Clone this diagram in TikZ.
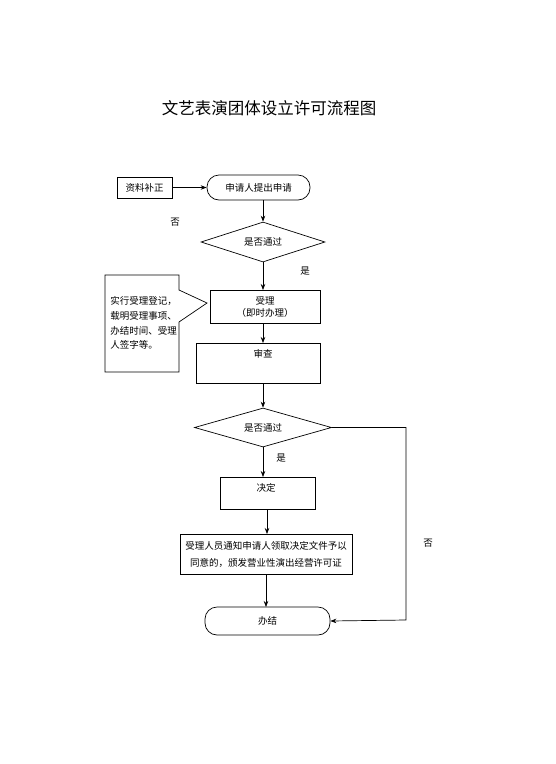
\documentclass[tikz,border=0pt]{standalone}
\usepackage{fontspec}
\setmainfont{Noto Sans CJK SC}
\usetikzlibrary{shapes.geometric,arrows.meta}

\begin{document}
\begin{tikzpicture}[x=1pt, y=-1pt, >={Stealth[length=6pt,width=4.5pt]}, line width=0.7pt,
    every node/.style={font=\fontsize{9.5}{12}\selectfont},
    box/.style={draw, rectangle, inner sep=2pt},
    term/.style={draw, rectangle, rounded corners=12pt, minimum height=26pt},
    decision/.style={draw, diamond, aspect=3.1, inner sep=1pt}]
    \useasboundingbox (0,0) rectangle (555,764);

    % Title
    \node[font=\fontsize{16.5}{20}\selectfont] (title) at (269,108) {文艺表演团体设立许可流程图};

    % Start and the supplement box
    \node[box, minimum width=55pt, minimum height=21pt] (fix) at (144.5,187.5) {资料补正};
    \node[term, minimum width=103pt, minimum height=25pt] (apply) at (258.5,187.5) {申请人提出申请};
    \draw[->] (fix) -- (apply);
    \node (no1) at (175,222) {否};

    % First check
    \node[decision, minimum width=124pt, minimum height=40pt] (check1) at (263,242) {是否通过};
    \draw[->] (263,200) -- (check1.north);
    \node (yes1) at (305,271) {是};

    % Accept
    \node[box, minimum width=110pt, minimum height=33pt, align=center] (accept) at (265,306.5)
        {受理\\（即时办理）};
    \draw[->] (check1.south) -- (263,290);

    % Callout beside the accept box
    \draw (105,275) -- (179,275) -- (179,290) -- (207,303) -- (179,322) -- (179,372)
        -- (105,372) -- cycle;
    \node[align=left, anchor=north west, inner sep=0pt, font=\fontsize{9.5}{14.8}\selectfont] (note) at (110,296)
        {实行受理登记，\\载明受理事项、\\办结时间、受理\\人签字等。};

    % Review
    \node[box, minimum width=124pt, minimum height=40pt] (review) at (258,363) {};
    \node (reviewtxt) at (263,354) {审查};
    \draw[->] (263,323) -- (263,343);

    % Second check
    \node[decision, minimum width=137pt, minimum height=39pt] (check2) at (263,427.5) {是否通过};
    \draw[->] (263,383) -- (check2.north);
    \node (yes2) at (281,458) {是};

    % Decision
    \node[box, minimum width=95pt, minimum height=32pt] (decide) at (267.5,493) {};
    \node (decidetxt) at (266,488) {决定};
    \draw[->] (263,447) -- (263,477);

    % Notify
    \node[box, minimum width=172pt, minimum height=40pt, align=center,
        font=\fontsize{9.5}{17}\selectfont] (notify) at (266,554)
        {受理人员通知申请人领取决定文件予以\\同意的，颁发营业性演出经营许可证};
    \draw[->] (267,509) -- (267,534);

    % End
    \node[term, minimum width=125pt, minimum height=28pt] (done) at (267.5,621) {办结};
    \draw[->] (266,574) -- (266,607);

    % Rejection path
    \coordinate (c1) at (406,427.5);
    \coordinate (c2) at (406,620);
    \draw[->] (check2.east) -- (c1) -- (c2) -- (done.east);
    \node (no2) at (428,543) {否};
\end{tikzpicture}
\end{document}
